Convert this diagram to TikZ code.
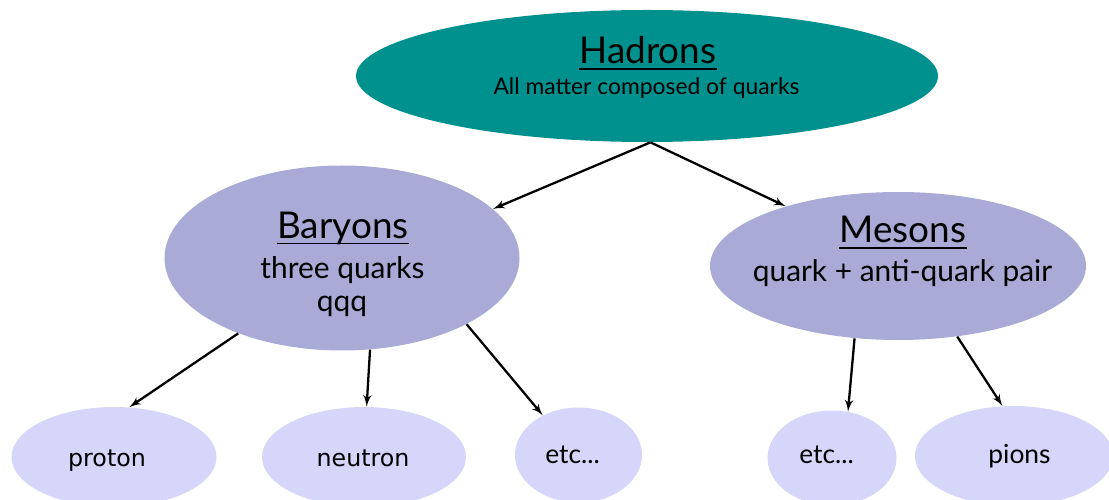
\documentclass[tikz,border=0pt]{standalone}
\usepackage{fontspec}
\setmainfont{Lato}
\newfontfamily\labelfont{DejaVu Sans}
\usetikzlibrary{shapes.geometric, arrows}

\definecolor{hadroncol}{RGB}{0,145,143}
\definecolor{groupcol}{RGB}{169,170,214}
\definecolor{membercol}{RGB}{213,214,250}

\begin{document}
\begin{tikzpicture} [
    hadron/.style={ellipse, fill=hadroncol, inner sep=0pt},
    group/.style={ellipse, fill=groupcol, inner sep=0pt},
    member/.style={ellipse, fill=membercol, inner sep=0pt},
    title/.style={anchor=base, inner sep=0pt, font=\fontsize{21}{25}\selectfont},
    desc/.style={anchor=base, inner sep=0pt, font=\fontsize{17}{20}\selectfont},
    leaf/.style={anchor=base, inner sep=0pt, font=\fontsize{15}{18}\selectfont},
    line/.style={draw, -latex', line width=1.3pt},
    uline/.style={draw, line width=1pt}
]
    \useasboundingbox (0,0) rectangle (22.18,-10);

    % Ellipses
    \node[hadron, minimum width=11.64cm, minimum height=2.64cm] (hadrons) at (12.94,-1.52) {};

    \node[group, minimum width=7.1cm, minimum height=3.7cm] (baryons) at (6.84,-5.16) {};
    \node[group, minimum width=7.52cm, minimum height=2.96cm] (mesons) at (17.96,-5.32) {};

    \node[member, minimum width=4.1cm, minimum height=2cm] (proton) at (2.28,-9.14) {};
    \node[member, minimum width=4.08cm, minimum height=2cm] (neutron) at (7.28,-9.14) {};
    \node[member, minimum width=2.54cm, minimum height=1.9cm] (etc_b) at (11.57,-9.1) {};
    \node[member, minimum width=2.58cm, minimum height=1.9cm] (etc_m) at (16.64,-9.16) {};
    \node[member, minimum width=3.96cm, minimum height=2cm] (pions) at (20.28,-9.12) {};

    % Texts
    \node[title] (hadrons_t) at (12.96,-1.28) {Hadrons};
    \node[anchor=base, inner sep=0pt, font=\fontsize{13}{16}\selectfont] (hadrons_d) at (12.93,-1.9) {All matter composed of quarks};

    \node[title] (baryons_t) at (6.86,-4.78) {Baryons};
    \node[desc] (baryons_d) at (6.85,-5.58) {three quarks};
    \node[desc] (baryons_q) at (6.84,-6.24) {qqq};

    \node[title] (mesons_t) at (18.06,-4.86) {Mesons};
    \node[desc] (mesons_d) at (18.05,-5.64) {quark + anti-quark pair};

    \node[leaf, font=\labelfont\fontsize{13.5}{16}\selectfont] (proton_t) at (2.14,-9.32) {proton};
    \node[leaf, font=\labelfont\fontsize{13.5}{16}\selectfont] (neutron_t) at (7.26,-9.32) {neutron};
    \node[leaf] (etc_b_t) at (11.45,-9.26) {etc...};
    \node[leaf] (etc_m_t) at (16.53,-9.26) {etc...};
    \node[leaf] (pions_t) at (20.39,-9.26) {pions};

    % Underlines
    \draw[uline] ([yshift=-3pt]hadrons_t.base west) -- ([yshift=-3pt]hadrons_t.base east);
    \draw[uline] ([yshift=-2.5pt]baryons_t.base west) -- ([yshift=-2.5pt]baryons_t.base east);
    \draw[uline] ([yshift=-3pt]mesons_t.base west) -- ([yshift=-3pt]mesons_t.base east);

    % Arrows
    \path [line] (hadrons.273) -- (baryons.18);
    \path [line] (hadrons.273) -- (mesons.152);
    \path [line] (baryons.216) -- (proton.73);
    \path [line] (baryons.287) -- (neutron.87);
    \path [line] (baryons.332) -- (etc_b.132);
    \path [line] (mesons.239) -- (etc_m.71);
    \path [line] (mesons.310) -- (pions.103);

\end{tikzpicture}
\end{document}
